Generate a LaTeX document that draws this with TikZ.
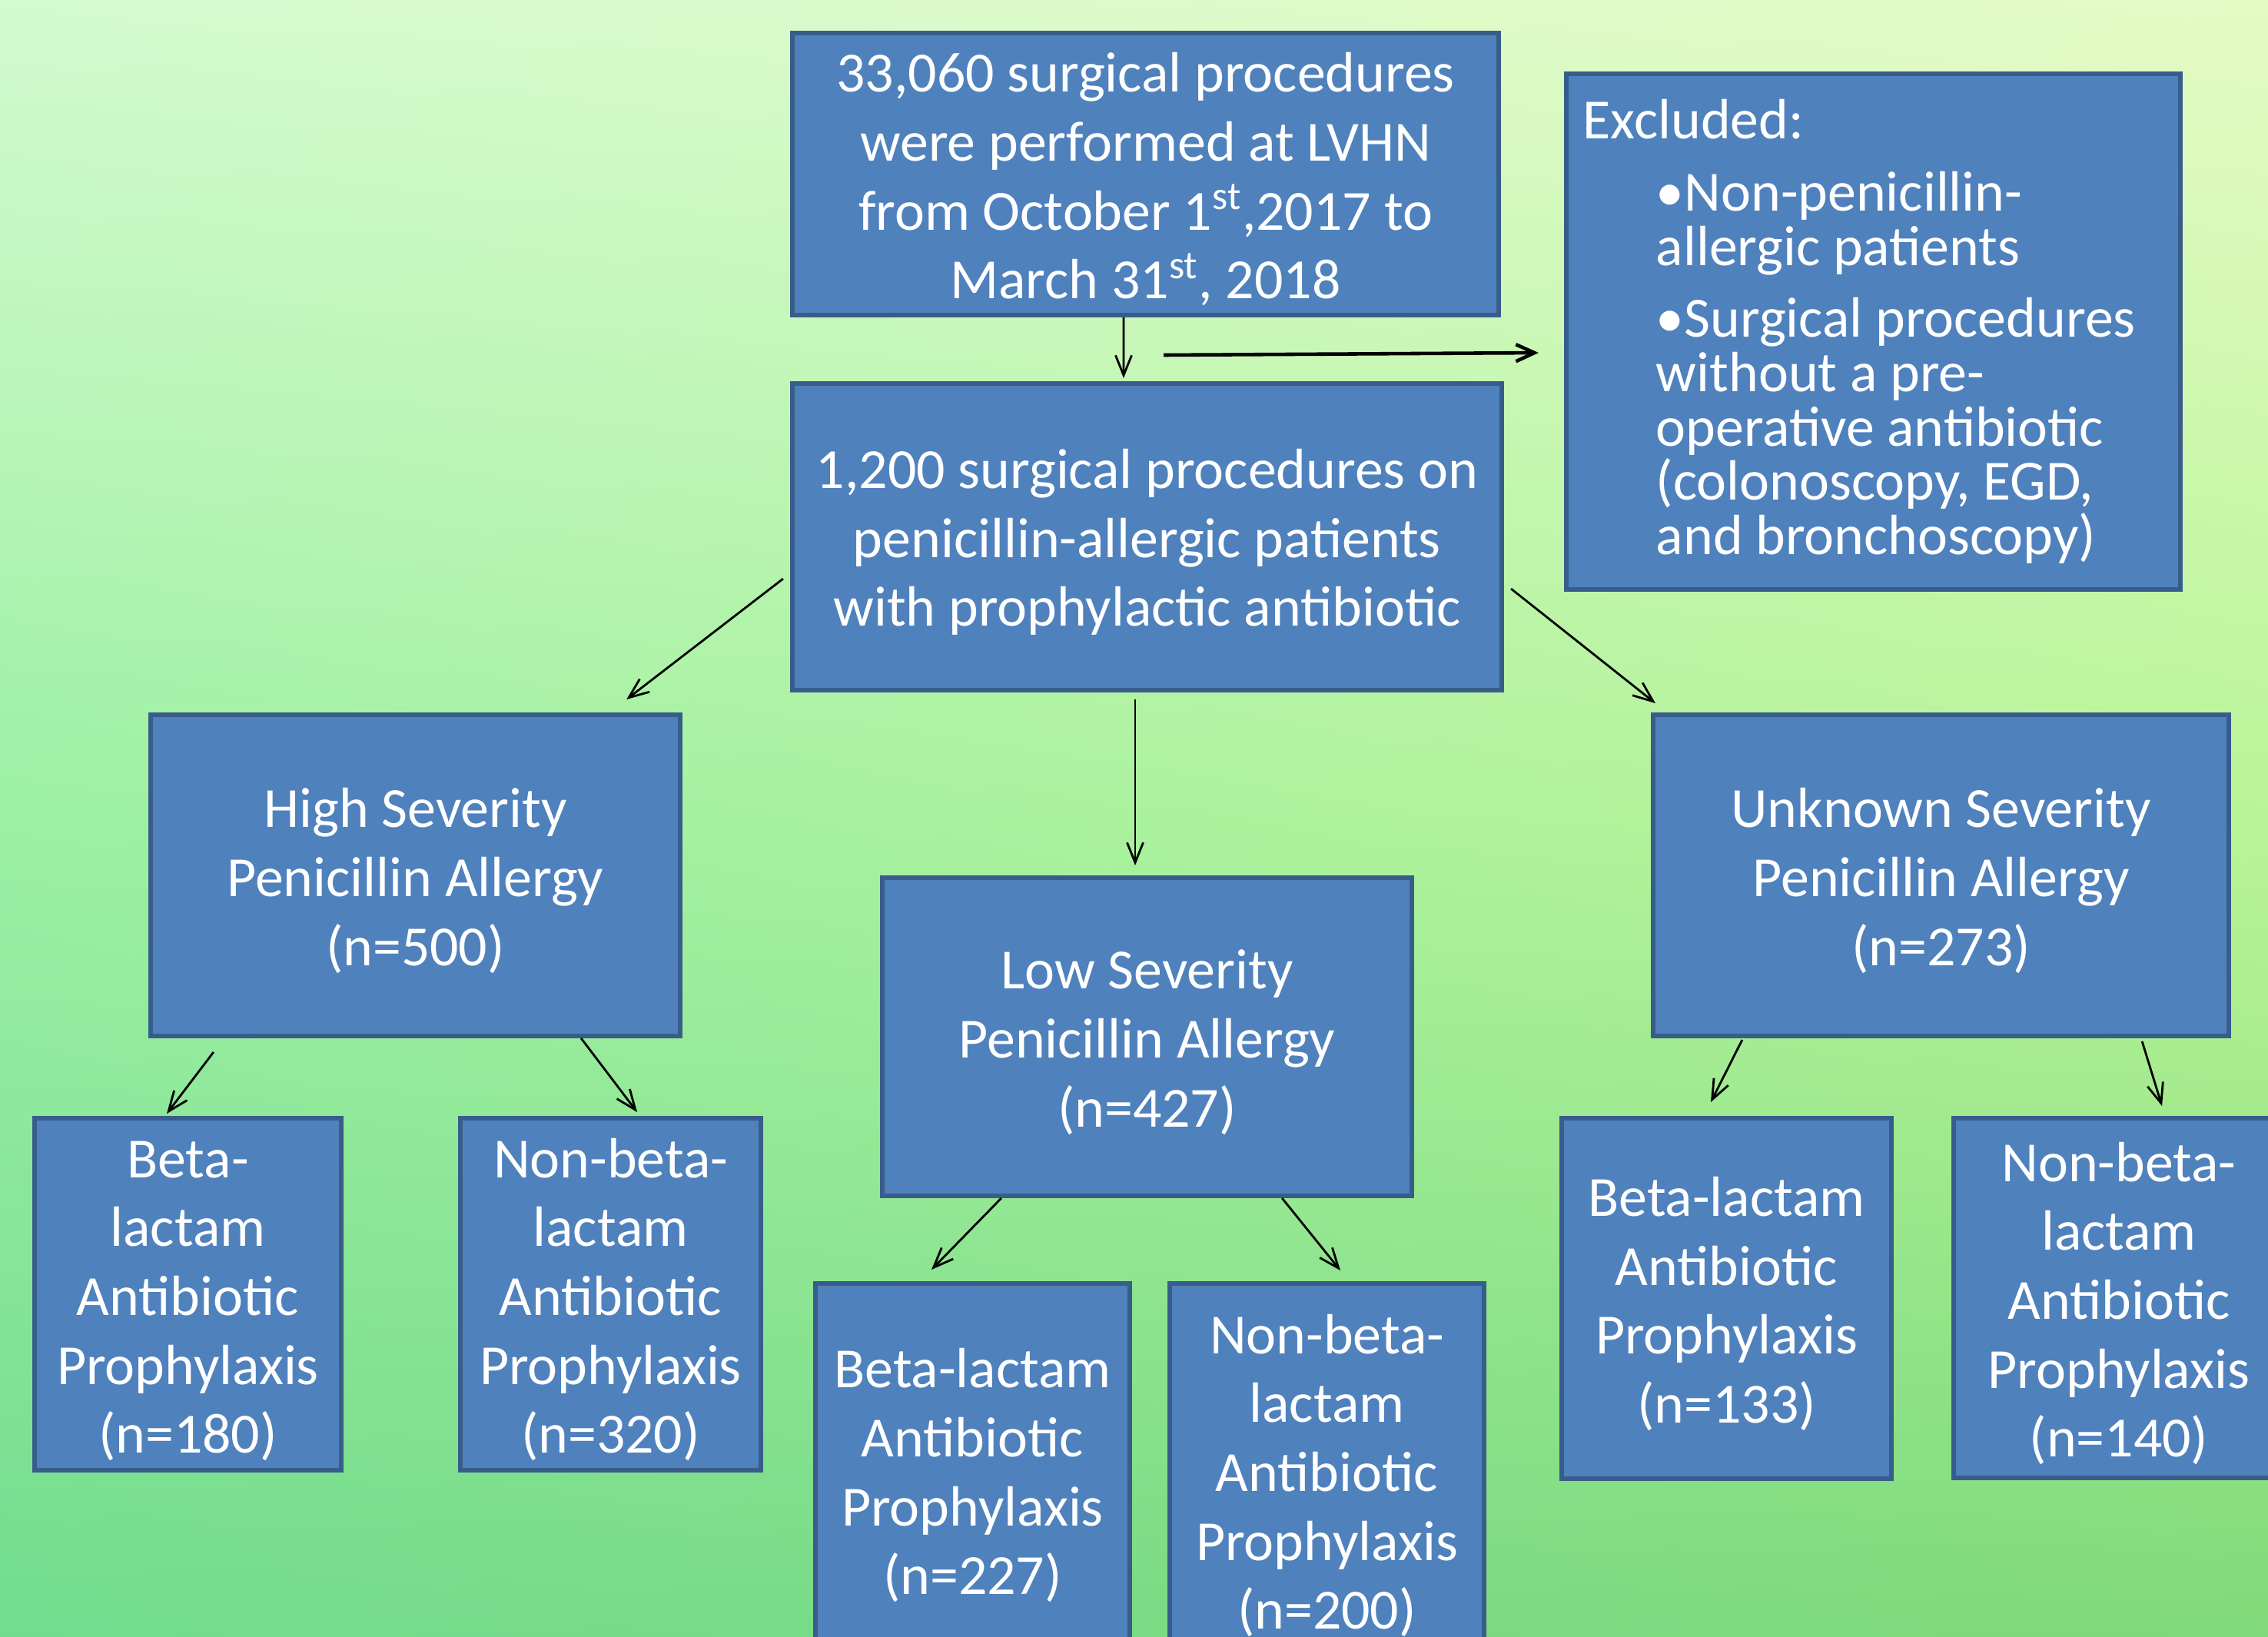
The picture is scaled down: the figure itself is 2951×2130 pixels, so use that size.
\documentclass[tikz,border=0pt]{standalone}
\usepackage{fontspec}
\setmainfont{Carlito}
\usetikzlibrary{arrows.meta,calc,shadings}
\definecolor{boxblue}{RGB}{79,129,189}
\definecolor{boxedge}{RGB}{56,93,138}
\definecolor{bgTL}{RGB}{212,250,208}
\definecolor{bgTR}{RGB}{228,251,196}
\definecolor{bgML}{RGB}{156,240,164}
\definecolor{bgMR}{RGB}{186,244,152}
\definecolor{bgBL}{RGB}{114,220,142}
\definecolor{bgBR}{RGB}{128,217,122}
\newcommand\tup{\rule{0pt}{18.5pt}}
\begin{document}
\begin{tikzpicture}[x=0.01cm,y=-0.01cm,
  box/.style={draw=boxedge,fill=boxblue,line width=1.6pt,text=white,inner sep=0pt},
  cbox/.style={box,align=center,font=\fontsize{21}{25.5}\selectfont},
  conn/.style={-{Straight Barb[length=2.6mm,width=2.1mm]},line width=0.8pt,black},
  bigconn/.style={-{Straight Barb[length=2.4mm,width=2.2mm]},line width=1.3pt,black}]
\useasboundingbox (0,0) rectangle (2951,2130);
\clip (0,0) rectangle (2951,2130);
\shade[upper left=bgTL,upper right=bgTR,lower left=bgML,lower right=bgMR]
  (0cm,0cm) rectangle (29.51cm,-10.6cm);
\shade[upper left=bgML,upper right=bgMR,lower left=bgBL,lower right=bgBR]
  (0cm,-10.6cm) rectangle (29.51cm,-21.3cm);

\node[cbox,minimum width=9.19cm,minimum height=3.67cm] (A) at (1490.5,226.5)
  {\tup 33,060 surgical procedures\\were performed at LVHN\\from October 1\textsuperscript{st},2017 to\\March 31\textsuperscript{st}, 2018};
\node[cbox,minimum width=9.23cm,minimum height=3.99cm] (B) at (1492.5,698.5)
  {\tup 1,200 surgical procedures on\\penicillin-allergic patients\\with prophylactic antibiotic};
\node[box,minimum width=7.99cm,minimum height=6.71cm,align=flush left,text width=7.55cm,inner xsep=2.2mm,
  font=\fontsize{21}{20.1}\selectfont] (X) at (2437.5,431.5)
  {Excluded:\\[6.5pt]
   \hspace*{9.5mm}\textbullet Non-penicillin-\\
   \hspace*{9.5mm}allergic patients\\[6.5pt]
   \hspace*{9.5mm}\textbullet Surgical procedures\\
   \hspace*{9.5mm}without a pre-\\
   \hspace*{9.5mm}operative antibiotic\\
   \hspace*{9.5mm}(colonoscopy, EGD,\\
   \hspace*{9.5mm}and bronchoscopy)};
\node[cbox,minimum width=6.89cm,minimum height=4.18cm] (H) at (540.5,1139)
  {\tup High Severity\\Penicillin Allergy\\(n=500)};
\node[cbox,minimum width=6.89cm,minimum height=4.14cm] (L) at (1492.5,1349)
  {\tup Low Severity\\Penicillin Allergy\\(n=427)};
\node[cbox,minimum width=7.49cm,minimum height=4.18cm] (U) at (2525.5,1139)
  {\tup Unknown Severity\\Penicillin Allergy\\(n=273)};
\node[cbox,minimum width=3.99cm,minimum height=4.58cm] (H1) at (244.5,1684)
  {\tup Beta-\\lactam\\Antibiotic\\Prophylaxis\\(n=180)};
\node[cbox,minimum width=3.91cm,minimum height=4.58cm] (H2) at (794.5,1684)
  {\tup Non-beta-\\lactam\\Antibiotic\\Prophylaxis\\(n=320)};
\node[cbox,minimum width=4.09cm,minimum height=4.86cm] (L1) at (1265.5,1913)
  {\tup Beta-lactam\\Antibiotic\\Prophylaxis\\(n=227)};
\node[cbox,minimum width=4.09cm,minimum height=4.86cm] (L2) at (1726.5,1913)
  {\tup Non-beta-\\lactam\\Antibiotic\\Prophylaxis\\(n=200)};
\node[cbox,minimum width=4.29cm,minimum height=4.69cm] (U1) at (2246.5,1689.5)
  {\tup Beta-lactam\\Antibiotic\\Prophylaxis\\(n=133)};
\node[cbox,minimum width=4.30cm,minimum height=4.68cm] (U2) at (2757,1689)
  {\tup Non-beta-\\lactam\\Antibiotic\\Prophylaxis\\(n=140)};

\coordinate (exstart) at (1514,462);
\draw[conn] ([xshift=-2.85mm]A.south) -- ([xshift=-3.05mm,yshift=0.4mm]B.north);
\draw[bigconn] (exstart) -- ([xshift=-3.3mm,yshift=-2.75mm]X.west);
\draw[conn] ([xshift=-0.9mm,yshift=-5.45mm]B.west) -- ([xshift=27.45mm,yshift=1.7mm]H.north);
\draw[conn] ([xshift=-1.55mm,yshift=-0.9mm]B.south) -- ([xshift=-1.55mm,yshift=1.3mm]L.north);
\draw[conn] ([xshift=0.9mm,yshift=-6.75mm]B.east) -- ([xshift=0.6mm,yshift=1.2mm]U.north west);
\draw[conn] ([xshift=-26.25mm,yshift=-1.8mm]H.south) -- ([xshift=-2.75mm,yshift=0.3mm]H1.north);
\draw[conn] ([xshift=21.55mm]H.south) -- ([xshift=3.45mm,yshift=0.5mm]H2.north);
\draw[conn] ([xshift=-18.95mm]L.south) -- ([xshift=-5.35mm,yshift=1.5mm]L1.north);
\draw[conn] ([xshift=17.55mm]L.south) -- ([xshift=1.75mm,yshift=1.4mm]L2.north);
\draw[conn] ([xshift=-25.85mm,yshift=-0.2mm]U.south) -- ([xshift=-2.05mm,yshift=1.8mm]U1.north);
\draw[conn] ([xshift=26.15mm,yshift=-0.4mm]U.south) -- ([xshift=5.6mm,yshift=1.3mm]U2.north);
\end{tikzpicture}
\end{document}
